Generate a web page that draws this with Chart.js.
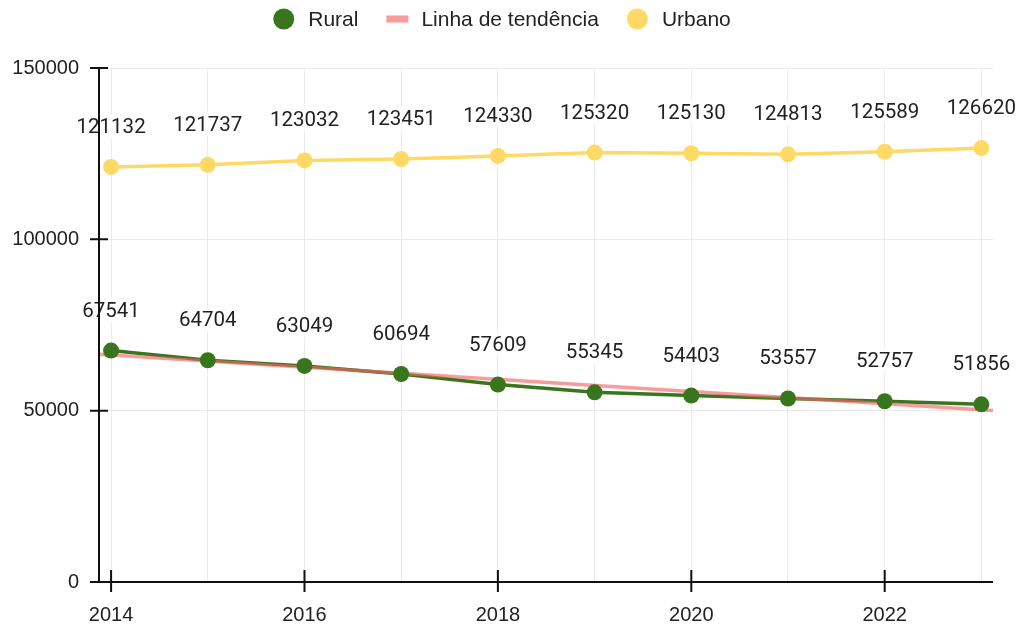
<!DOCTYPE html>
<html lang="pt">
<head>
<meta charset="utf-8">
<title>Rural e Urbano</title>
<script src="https://cdn.jsdelivr.net/npm/chart.js@4/dist/chart.umd.min.js"></script>
<style>
  html, body { margin: 0; padding: 0; background: #fff; }
  #wrap { width: 1021px; height: 628px; }
</style>
</head>
<body>
<div id="wrap"><canvas id="chart" width="1021" height="628"></canvas></div>
<script>
// --- data ---
const years = [2014, 2015, 2016, 2017, 2018, 2019, 2020, 2021, 2022, 2023];
const rural = [67541, 64704, 63049, 60694, 57609, 55345, 54403, 53557, 52757, 51856];
const urbano = [121132, 121737, 123032, 123451, 124330, 125320, 125130, 124813, 125589, 126620];
// trend line end points (as drawn, edge to edge of the plot)
const trendYears = [2013.875, 2023.12];
const trendValues = [66500, 50050];
const yTicks = [0, 50000, 100000, 150000];

const GREEN = '#38761d';
const YELLOW = '#ffd966';
const PINK = 'rgba(244, 102, 102, 0.65)';
const PINK_SOLID = '#f89c9c';

const toPoints = (xs, ys) => xs.map((x, i) => ({ x: x, y: ys[i] }));

// value labels above the points, on a white box
const valueLabels = {
  id: 'valueLabels',
  afterDatasetsDraw(chart) {
    const ctx = chart.ctx;
    ctx.save();
    ctx.font = '20.5px Roboto';
    ctx.textAlign = 'center';
    ctx.textBaseline = 'alphabetic';
    chart.data.datasets.forEach((ds, i) => {
      if (!ds.showValues) return;
      const meta = chart.getDatasetMeta(i);
      meta.data.forEach((pt, j) => {
        const txt = String(ds.data[j].y);
        const w = ctx.measureText(txt).width;
        const cy = pt.y - 41;
        ctx.fillStyle = '#fff';
        ctx.fillRect(pt.x - w / 2 - 2, cy - 12, w + 4, 24);
        ctx.fillStyle = '#222';
        ctx.fillText(txt, pt.x, cy + 7);
      });
    });
    ctx.restore();
  }
};

// black axes with ticks that cross the axis line
const crossAxes = {
  id: 'crossAxes',
  afterDraw(chart) {
    const { ctx, chartArea: a, scales: { x, y } } = chart;
    ctx.save();
    ctx.strokeStyle = '#111';
    ctx.lineWidth = 2;
    ctx.beginPath();
    ctx.moveTo(a.left, a.top);
    ctx.lineTo(a.left, a.bottom);
    ctx.moveTo(a.left, a.bottom);
    ctx.lineTo(a.right, a.bottom);
    y.ticks.forEach(t => {
      const py = y.getPixelForValue(t.value);
      ctx.moveTo(a.left - 9, py);
      ctx.lineTo(a.left + 9, py);
    });
    x.ticks.forEach(t => {
      if (t.value % 2 !== 0) return;
      const px = x.getPixelForValue(t.value);
      ctx.moveTo(px, a.bottom - 12);
      ctx.lineTo(px, a.bottom + 10);
    });
    ctx.stroke();
    ctx.restore();
  }
};

// legend on top: circle / line markers
const topLegend = {
  id: 'topLegend',
  afterDraw(chart) {
    const ctx = chart.ctx;
    const items = chart.data.datasets.filter(d => d.legendMarker);
    ctx.save();
    ctx.font = '21px "Liberation Sans", Arial, sans-serif';
    ctx.textBaseline = 'middle';
    ctx.textAlign = 'left';
    const marker = 21, gapText = 14, gapItem = 28;
    const widths = items.map(d => marker + gapText + ctx.measureText(d.label).width);
    const total = widths.reduce((s, w) => s + w, 0) + gapItem * (items.length - 1);
    let x = 502 - total / 2;
    const cy = 19;
    items.forEach((d, i) => {
      if (d.legendMarker === 'circle') {
        ctx.fillStyle = d.legendColor;
        ctx.beginPath();
        ctx.arc(x + marker / 2, cy, marker / 2, 0, Math.PI * 2);
        ctx.fill();
      } else {
        ctx.fillStyle = d.legendColor;
        ctx.fillRect(x, cy - 3.5, marker + 1, 7);
      }
      ctx.fillStyle = '#222';
      ctx.fillText(d.label, x + marker + gapText, cy + 1);
      x += widths[i] + gapItem;
    });
    ctx.restore();
  }
};

new Chart(document.getElementById('chart'), {
  type: 'line',
  data: {
    datasets: [
      {
        label: 'Rural',
        data: toPoints(years, rural),
        borderColor: GREEN,
        backgroundColor: GREEN,
        borderWidth: 3.5,
        pointRadius: 0,
        order: 4,
        legendMarker: 'circle',
        legendColor: GREEN
      },
      {
        label: 'Linha de tendência',
        data: toPoints(trendYears, trendValues),
        borderColor: PINK,
        borderWidth: 3.5,
        pointRadius: 0,
        order: 3,
        legendMarker: 'line',
        legendColor: PINK_SOLID
      },
      {
        label: 'Rural (pontos)',
        data: toPoints(years, rural),
        showLine: false,
        backgroundColor: GREEN,
        borderColor: GREEN,
        pointRadius: 8,
        pointBorderWidth: 0,
        order: 2,
        showValues: true
      },
      {
        label: 'Urbano',
        data: toPoints(years, urbano),
        borderColor: YELLOW,
        backgroundColor: YELLOW,
        borderWidth: 3.5,
        pointRadius: 8,
        pointBorderWidth: 0,
        order: 1,
        showValues: true,
        legendMarker: 'circle',
        legendColor: YELLOW
      }
    ]
  },
  options: {
    responsive: false,
    devicePixelRatio: 1,
    animation: false,
    layout: { padding: { top: 68, right: 28, bottom: 1, left: 12 } },
    elements: { line: { tension: 0 } },
    plugins: {
      legend: { display: false },
      tooltip: { enabled: false }
    },
    scales: {
      x: {
        type: 'linear',
        min: 2013.875,
        max: 2023.12,
        afterBuildTicks: scale => { scale.ticks = years.map(v => ({ value: v })); },
        afterFit: scale => { scale.height = 45; },
        grid: { color: '#ebebeb', lineWidth: 1, drawTicks: false },
        border: { display: false },
        ticks: {
          autoSkip: false,
          maxRotation: 0,
          padding: 21,
          color: '#222',
          font: { family: '"Liberation Sans", Arial, sans-serif', size: 20 },
          callback: v => (v % 2 === 0 ? String(v) : '')
        }
      },
      y: {
        min: 0,
        max: 150000,
        afterBuildTicks: scale => { scale.ticks = yTicks.map(v => ({ value: v })); },
        afterFit: scale => { scale.width = 87; },
        grid: { color: '#ebebeb', lineWidth: 1, drawTicks: false },
        border: { display: false },
        ticks: {
          padding: 20,
          color: '#222',
          font: { family: '"Liberation Sans", Arial, sans-serif', size: 20 },
          callback: v => String(v)
        }
      }
    }
  },
  plugins: [valueLabels, crossAxes, topLegend]
});
</script>
</body>
</html>
